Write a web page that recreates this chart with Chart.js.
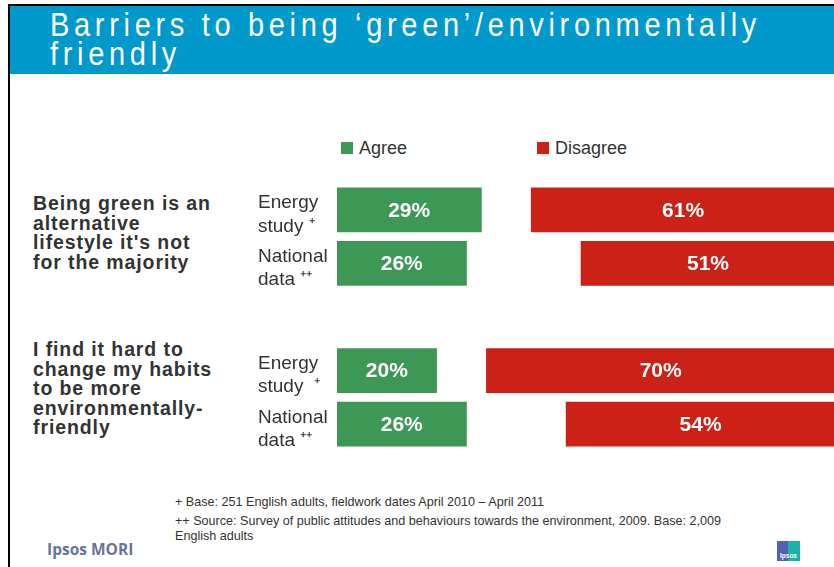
<!DOCTYPE html>
<html>
<head>
<meta charset="utf-8">
<script src="https://cdn.jsdelivr.net/npm/chart.js@4"></script>
<style>
  html, body { margin: 0; padding: 0; }
  body { width: 834px; height: 567px; position: relative; overflow: hidden; background: #fff;
         font-family: "Liberation Sans", Arial, sans-serif; color: #333; }
  .frameLeft { position: absolute; left: 8px; top: 4px; width: 2px; height: 563px; background: #000; }
  .frameTop { position: absolute; left: 8px; top: 4px; width: 826px; height: 2px; background: #000; }
  .title { position: absolute; left: 10px; top: 6px; width: 824px; height: 68px; background: #0099cc; overflow: hidden; }
  .title div { position: absolute; left: 40px; top: 5px; color: #fff; white-space: nowrap;
               font-family: "Liberation Sans", Arial, sans-serif; transform: scaleX(0.88); transform-origin: 0 0;
               font-size: 33px; line-height: 28.5px; letter-spacing: 5.3px; }
  .legend { position: absolute; top: 138px; font-size: 18px; color: #333; }
  .legend span.box { display: inline-block; width: 12px; height: 12px; margin-right: 6px; vertical-align: 0px; }
  .question { position: absolute; left: 33px; font-weight: bold; font-size: 19.5px; line-height: 19.6px;
              letter-spacing: 0.9px; color: #333; }
  .notes { position: absolute; left: 175px; top: 495px; width: 562px; font-size: 12.6px; color: #333; }
  .notes p { margin: 0 0 4px 0; line-height: 15px; }
  .ipsosMori { position: absolute; left: 47px; top: 538px; font-weight: bold; font-size: 15.5px;
               color: #66739b; font-family: "Open Sans", sans-serif; }
  .ipsosLogo { position: absolute; left: 777px; top: 541px; width: 23px; height: 20px;
               background: linear-gradient(90deg, #5560b4 50%, #1ab3a6 50%);
               color: #fff; font-size: 6.5px; text-align: center; line-height: 30px; font-weight: bold; }
  #chart { position: absolute; left: 236px; top: 183px; }
</style>
</head>
<body>
<div class="frameLeft"></div>
<div class="frameTop"></div>
<div class="title"><div>Barriers to being ‘green’/environmentally<br>friendly</div></div>

<div class="legend" style="left:341px"><span class="box" style="background:#3d9856"></span>Agree</div>
<div class="legend" style="left:537px"><span class="box" style="background:#cb2116"></span>Disagree</div>

<div class="question" style="top:194px">Being green is an<br>alternative<br>lifestyle it's not<br>for the majority</div>
<div class="question" style="top:340px">I find it hard to<br>change my habits<br>to be more<br>environmentally-<br>friendly</div>

<canvas id="chart" width="600" height="268"></canvas>

<div class="notes">
  <p>+ Base: 251 English adults, fieldwork dates April 2010 – April 2011</p>
  <p>++ Source: Survey of public attitudes and behaviours towards the environment, 2009. Base: 2,009 English adults</p>
</div>
<div class="ipsosMori">Ipsos MORI</div>
<div class="ipsosLogo">Ipsos</div>

<script>
// rows: two sources per statement, with a blank row between the statements
const rowLabels = [["Energy", "study ⁺"], ["National", "data ⁺⁺"], "", ["Energy", "study  ⁺"], ["National", "data ⁺⁺"]];
const agree    = [29, 26, null, 20, 26];
const disagree = [61, 51, null, 70, 54];

const GREEN = '#3d9856';
const RED = '#cb2116';

// white percentage text in the middle of each bar
const barValues = {
  id: 'barValues',
  afterDatasetsDraw(chart) {
    const ctx = chart.ctx;
    ctx.save();
    ctx.fillStyle = '#fff';
    ctx.font = 'bold 21px "Liberation Sans", Arial, sans-serif';
    ctx.textAlign = 'center';
    ctx.textBaseline = 'middle';
    const sources = [agree, disagree];
    chart.data.datasets.forEach((ds, i) => {
      chart.getDatasetMeta(i).data.forEach((bar, j) => {
        const v = sources[i][j];
        if (v == null) return;
        ctx.fillText(v + '%', (bar.x + bar.base) / 2, bar.y + 1);
      });
    });
    ctx.restore();
  }
};

new Chart(document.getElementById('chart').getContext('2d'), {
  type: 'bar',
  data: {
    labels: rowLabels,
    datasets: [
      {
        label: 'Agree',
        data: agree,
        backgroundColor: GREEN,
        grouped: false,
        barThickness: 44
      },
      {
        label: 'Disagree',
        // disagree bars run back from the 100% end
        data: disagree.map(v => v == null ? null : [100 - v, 100]),
        backgroundColor: RED,
        grouped: false,
        barThickness: 44
      }
    ]
  },
  options: {
    indexAxis: 'y',
    responsive: false,
    animation: false,
    layout: { padding: { left: 22, right: 1, top: 0, bottom: 0 } },
    plugins: {
      legend: { display: false },
      tooltip: { enabled: false }
    },
    scales: {
      x: { min: 0, max: 100, display: false },
      y: {
        grid: { display: false },
        border: { display: false },
        afterFit(scale) {
          scale.width = 79;
          // two-line labels shouldn't shrink the plot vertically
          scale.paddingTop = 0;
          scale.paddingBottom = 0;
        },
        ticks: {
          crossAlign: 'far',
          labelOffset: 5,
          color: '#333',
          font: { family: '"Liberation Sans", Arial, sans-serif', size: 19, lineHeight: 1.22 }
        }
      }
    }
  },
  plugins: [barValues]
});
</script>
</body>
</html>
